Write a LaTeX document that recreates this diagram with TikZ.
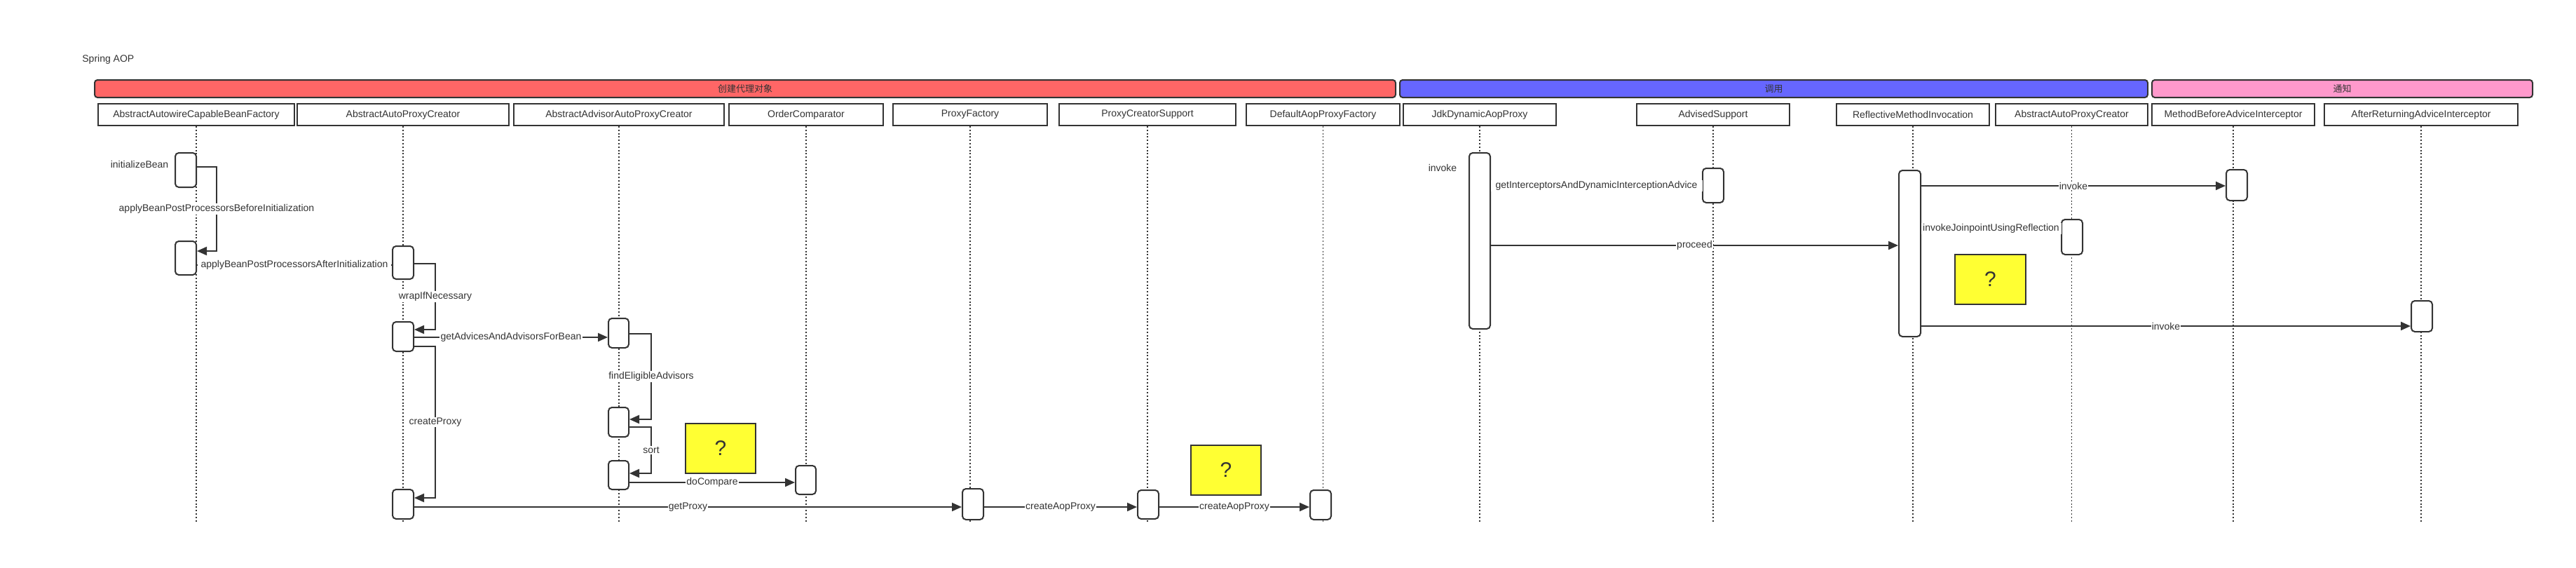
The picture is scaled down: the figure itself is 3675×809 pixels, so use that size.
\documentclass[tikz,border=0pt]{standalone}
\usepackage{fontspec}
\setmainfont{Liberation Sans}
\newfontfamily\cjk{Noto Sans CJK SC}
\usetikzlibrary{arrows.meta,fit,calc}
\definecolor{ink}{HTML}{333333}
\definecolor{bandred}{HTML}{FF6666}
\definecolor{bandblue}{HTML}{6666FF}
\definecolor{bandpink}{HTML}{FF99CC}
\definecolor{qyellow}{HTML}{FFFF33}
\begin{document}
\begin{tikzpicture}[x=0.5pt,y=-0.5pt, font=\fontsize{7}{8}\selectfont, text=ink,
  band/.style={draw=ink, line width=1pt, rounded corners=2pt, inner sep=0pt, minimum height=12.5pt, font=\cjk\fontsize{6.5}{7}\selectfont},
  hdr/.style={draw=ink, line width=1pt, fill=white, inner sep=0pt, minimum height=15.5pt},
  act/.style={draw=ink, line width=1pt, fill=white, rounded corners=2.5pt, inner sep=0pt},
  qbox/.style={draw=ink, line width=1pt, fill=qyellow, inner sep=0pt, minimum width=50pt, minimum height=35.5pt, font=\fontsize{15}{16}\selectfont},
  life/.style={draw=ink, line width=0.7pt, dash pattern=on 1pt off 1.4pt},
  msg/.style={draw=ink, line width=1pt, -{Triangle[length=7pt,width=6pt]}},
  plainmsg/.style={draw=ink, line width=1pt},
  lbl/.style={fill=white, inner sep=0.6pt, text=ink},
  txt/.style={inner sep=0pt, text=ink}]
\useasboundingbox[fill=white] (0,0) rectangle (3675,809);

% title
\node[txt, anchor=west] (title) at (117,85) {Spring AOP};

% bands
\node[band, fill=bandred, minimum width=928pt] (B1) at (1063,126.5) {创建代理对象};
\node[band, fill=bandblue, minimum width=533.5pt] (B2) at (2530.5,126.5) {调用};
\node[band, fill=bandpink, minimum width=271.5pt] (B3) at (3341.5,126.5) {通知};

% headers
\node[hdr, minimum width=140pt] (H1) at (280,163.5) {AbstractAutowireCapableBeanFactory};
\node[hdr, minimum width=151pt] (H2) at (575,163.5) {AbstractAutoProxyCreator};
\node[hdr, minimum width=150pt] (H3) at (883,163.5) {AbstractAdvisorAutoProxyCreator};
\node[hdr, minimum width=110pt] (H4) at (1150,163.5) {OrderComparator};
\node[hdr, minimum width=110pt] (H5) at (1384,163.5) {ProxyFactory};
\node[hdr, minimum width=126pt] (H6) at (1637,163.5) {ProxyCreatorSupport};
\node[hdr, minimum width=109.5pt] (H7) at (1887.5,163.5) {DefaultAopProxyFactory};
\node[hdr, minimum width=109pt] (H8) at (2111,163.5) {JdkDynamicAopProxy};
\node[hdr, minimum width=109pt] (H9) at (2444,163.5) {AdvisedSupport};
\node[hdr, minimum width=109pt] (H10) at (2729,163.5) {ReflectiveMethodInvocation};
\node[hdr, minimum width=108.5pt] (H11) at (2955.5,163.5) {AbstractAutoProxyCreator};
\node[hdr, minimum width=116pt] (H12) at (3186,163.5) {MethodBeforeAdviceInterceptor};
\node[hdr, minimum width=138pt] (H13) at (3454,163.5) {AfterReturningAdviceInterceptor};

% lifelines
\coordinate (lifeend) at (0,746);
\foreach \h in {H1,H2,H3,H4,H5,H6,H7,H8,H9,H10,H11,H12,H13}
  \draw[life] (\h.south) -- (\h.south |- lifeend);

% activations
\node[act, fit={(250,218)(280,267)}] (A1) {};
\node[act, fit={(250,344)(280,392)}] (A2) {};
\node[act, fit={(560,351)(590,398)}] (A3) {};
\node[act, fit={(560,459)(590,501)}] (A4) {};
\node[act, fit={(868,454)(897,496)}] (A5) {};
\node[act, fit={(868,581)(897,623)}] (A6) {};
\node[act, fit={(868,657)(897,698)}] (A7) {};
\node[act, fit={(1135,664)(1164,705)}] (A8) {};
\node[act, fit={(560,698)(590,740)}] (A9) {};
\node[act, fit={(1373,697)(1403,741)}] (A10) {};
\node[act, fit={(1623,699)(1653,740)}] (A11) {};
\node[act, fit={(1869,699)(1899,741)}] (A12) {};
\node[act, fit={(2096,218)(2126,469)}] (A13) {};
\node[act, fit={(2429,240)(2459,289)}] (A14) {};
\node[act, fit={(2709,243)(2740,480)}] (A15) {};
\node[act, fit={(3176,242)(3206,286)}] (A16) {};
\node[act, fit={(2941,313)(2971,363)}] (A17) {};
\node[act, fit={(3440,429)(3470,473)}] (A18) {};

% question boxes
\node[qbox] (Q1) at (1028,639.5) {?};
\node[qbox] (Q2) at (1749,670) {?};
\node[qbox, minimum width=50.5pt] (Q3) at (2839.5,398) {?};

% free labels
\node[txt] (L1) at (199,234) {initializeBean};
\node[txt] (L2) at (2058,239) {invoke};

% messages
\draw[msg] (A1.east |- 0,238) -- ++(28,0) -- node[lbl]{applyBeanPostProcessorsBeforeInitialization} ++(0,120) -- (A2.east |- 0,358);
\draw[plainmsg] (A2.east |- 0,378) -- node[lbl, minimum width=138pt]{applyBeanPostProcessorsAfterInitialization} (A3.west |- 0,378);
\draw[msg] (A3.east |- 0,376) -- ++(30,0) -- node[lbl]{wrapIfNecessary} ++(0,94) -- (A4.east |- 0,470);
\draw[msg] (A4.east |- 0,481) -- node[lbl]{getAdvicesAndAdvisorsForBean} (A5.west |- 0,481);
\draw[msg] (A5.east |- 0,476) -- ++(31,0) -- node[lbl]{findEligibleAdvisors} ++(0,122) -- (A6.east |- 0,598);
\draw[msg] (A6.east |- 0,609) -- ++(31,0) -- node[lbl]{sort} ++(0,66) -- (A7.east |- 0,675);
\draw[msg] (A7.east |- 0,688) -- node[lbl]{doCompare} (A8.west |- 0,688);
\draw[msg] (A4.east |- 0,494) -- ++(30,0) -- node[lbl]{createProxy} ++(0,216) -- (A9.east |- 0,710);
\draw[msg] (A9.east |- 0,723) -- node[lbl]{getProxy} (A10.west |- 0,723);
\draw[msg] (A10.east |- 0,723) -- node[lbl]{createAopProxy} (A11.west |- 0,723);
\draw[msg] (A11.east |- 0,723) -- node[lbl]{createAopProxy} (A12.west |- 0,723);
\draw[plainmsg] (A13.east |- 0,265) -- node[lbl, minimum width=151pt]{getInterceptorsAndDynamicInterceptionAdvice} (A14.west |- 0,265);
\draw[msg] (A13.east |- 0,350) -- node[lbl]{proceed} (A15.west |- 0,350);
\draw[msg] (A15.east |- 0,265) -- node[lbl]{invoke} (A16.west |- 0,265);
\draw[plainmsg] (A15.east |- 0,326) -- node[lbl, minimum width=100pt]{invokeJoinpointUsingReflection} (A17.west |- 0,326);
\draw[msg] (A15.east |- 0,465) -- node[lbl]{invoke} (A18.west |- 0,465);
\end{tikzpicture}
\end{document}
